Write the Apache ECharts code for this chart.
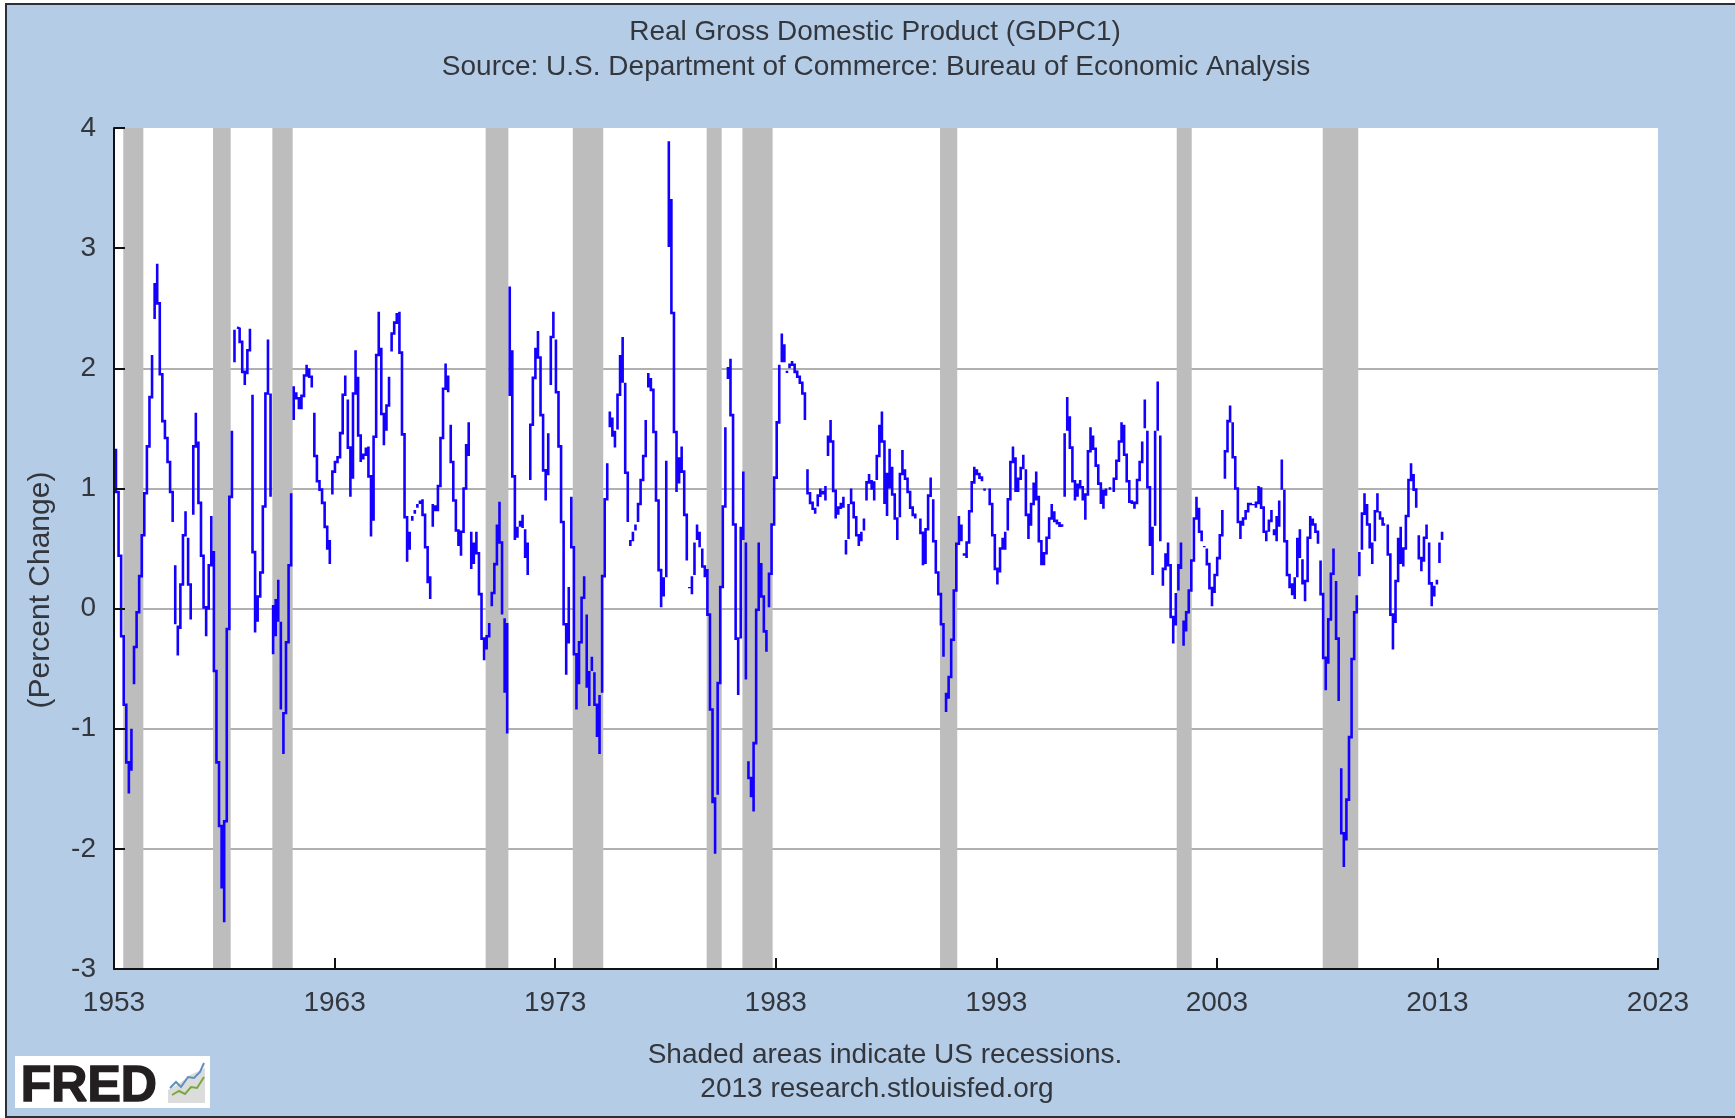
<!DOCTYPE html>
<html>
<head>
<meta charset="utf-8">
<title>Real Gross Domestic Product (GDPC1)</title>
<script src="https://cdn.jsdelivr.net/npm/echarts@6/dist/echarts.min.js"></script>
<style>
html,body{margin:0;padding:0;background:#fff;width:1735px;height:1118px;overflow:hidden}
#frame{position:absolute;left:5px;top:3px;right:-4px;bottom:0;background:#b5cce6;border:2px solid #2a2f38}
#chart{position:absolute;left:0;top:0;width:1735px;height:1118px}
</style>
</head>
<body>
<div id="frame"></div>
<div id="chart"></div>
<script>
// Percent-change readings, traced left to right. null lifts the pen.
var readings1953 = [1.33,0.97,0.44,-0.23,-0.80,-1.28,-1.54,null,-1.35,-1.00,null,-0.63,-0.32,-0.03,0.27,0.61,0.96,1.35,1.76,2.11,null,2.41,2.71,null,2.87,2.54,1.95,1.56,1.42,1.22,0.97,0.72,null,0.36,-0.13,null,-0.14,-0.39,null,-0.17,0.20,0.61,0.81,null,0.59,0.20,-0.09,null,0.78,1.35,1.63,null,1.39,0.88,0.44,0.01,-0.23,null,-0.01,0.36,0.77,null,0.48,-0.52,-1.28,-1.81,-2.33,null,-2.61,-1.77,-0.17,0.93,1.48,null,2.05,2.32,null,2.34,2.33,2.22,1.97,1.86,null,1.95,2.15,2.33,null,1.78,0.47,-0.20,null,-0.11,0.10,0.30,0.85,1.79,2.24,null,1.79,0.93,null,-0.38,0.03,null,-0.23,0.08,null,-0.11,0.24,null,-0.11,-0.84,null,-1.21,-0.86,null,-0.88,-0.28,0.36,0.96,null,1.57,1.85,null,1.80,1.75,1.66,null,1.66,1.77,1.94,2.03,null,2.00,1.93,1.84,null,1.63,1.27,1.06,0.99,0.88,0.68,0.49,null,0.57,0.37,null,0.95,1.14,1.22,1.26,1.46,1.78,1.94,null,1.74,1.34,0.93,null,1.08,1.79,2.15,null,1.93,1.44,1.22,null,1.24,1.28,1.34,null,1.35,1.10,0.60,null,0.73,1.43,2.11,2.47,null,2.17,1.62,1.36,null,1.48,1.69,1.93,null,2.14,2.29,2.38,2.46];
var readings1966 = [2.47,2.13,1.45,0.76,0.39,null,0.49,0.64,null,0.73,0.77,null,0.79,0.82,null,0.84,0.87,null,0.87,0.90,null,0.91,0.78,0.51,0.21,null,0.08,0.27,null,0.68,0.87,null,0.81,0.86,null,0.81,1.02,1.42,1.83,2.04,null,1.94,1.80,null,1.53,1.22,0.90,0.65,0.52,null,0.44,0.64,1.00,1.37,null,1.27,1.55,null,0.33,0.64,null,0.37,0.55,null,0.64,0.46,0.12,-0.25,-0.43,null,-0.34,-0.23,-0.12,null,0.02,0.13,0.37,0.70,null,0.89,0.55,-0.05,null,-0.08,-0.70,null,-1.04,-0.12,null,2.68,1.77,null,2.15,1.10,0.57,null,0.59,0.68,null,0.68,0.73,null,0.78,0.67,null,0.66,0.42,null,0.55,0.28,null,1.07,1.53,1.92,2.17,null,2.31,2.09,1.61,1.15,0.90,null,1.11,1.46,null,1.86,2.26,2.47,null,2.24,1.80,1.35,0.72,-0.13,-0.55,null,-0.29,0.18,null,0.93,0.51,-0.38,-0.84,null,-0.63,-0.28,0.09,0.27,null,-0.05,-0.66,null,-0.81,-0.52,null,-0.52,-0.40,null,-0.53,-0.80,-1.07,null,-1.21,-0.72,null,-0.70,0.27,0.91,1.21,null,1.64,1.51,null,1.59,1.43,null,1.34,1.48,null,1.49,1.78,2.11,null,2.26,1.88,null,1.88,1.13,0.72,null,0.52,0.57,null,0.56,0.64,null,0.65,0.70,null,0.72,0.87,1.07,1.27,1.57,null,1.96,1.84,null,1.92,1.82,1.47,0.90,0.32,0.01,null,0.10,0.26,null,0.26,1.23,null,3.89,3.01,null,3.41,2.46,1.47,0.97,null,1.04,1.26,null,1.35,1.14,0.78,0.40,null,0.18,0.17,null,0.12,0.27,null,0.28,0.55,null,0.57,0.70,null,0.64,0.51];
var readings1980 = [0.50,0.35,0.26,null,0.33,-0.05,-0.84,-1.62,null,-1.57,-2.04,null,-1.55,-0.62,0.18,0.85,1.51,null,1.91,2.01,null,2.08,1.61,0.70,-0.25,-0.72,null,-0.25,0.68,null,1.14,0.57,null,0.55,-0.59,null,-1.27,-1.41,-1.57,null,-1.69,-1.12,-0.01,0.55,null,0.38,0.10,-0.19,-0.36,null,0.01,0.29,0.70,1.09,1.55,2.03,null,2.29,2.05,null,2.20,2.05,null,1.96,1.98,null,2.00,2.04,null,2.06,2.03,1.97,1.93,1.88,1.79,1.57,null,1.16,0.96,0.88,0.82,null,0.79,0.84,null,0.85,0.94,1.00,null,0.98,0.95,null,1.02,0.90,null,1.27,1.44,null,1.57,1.39,0.98,0.75,null,0.78,0.84,0.88,null,0.93,0.84,null,0.45,0.57,null,0.58,0.87,null,1.00,0.88,0.76,0.61,0.52,null,0.56,0.64,null,0.65,0.75,null,0.90,1.05,1.12,null,1.07,0.99,null,0.90,1.06,null,1.07,1.27,1.53,null,1.64,1.39,0.87,null,0.77,1.13,null,1.00,1.33,null,1.18,0.95,0.75,0.57,null,0.76,1.12,1.32,null,1.16,1.08,0.97,0.84,0.78,0.75,null,0.76,0.76,null,0.75,0.63,0.36,null,0.37,0.66,0.94,1.09,null,0.91,0.56,0.30,0.12,-0.13,-0.40,null,-0.86,-0.70,null,-0.75,-0.57,-0.26,0.15,0.54,0.77,null,0.70,0.56,null,0.44,0.46,null,0.42,0.55,0.81,1.05,1.18,null,1.16,1.12,1.09,1.06,null,1.00,0.98,null,1.00,1.00,null,1.00,0.87,0.61,0.33,0.20];
var readings1993 = [0.30,0.50,0.59,null,0.49,0.64,null,0.65,0.91,1.22,1.35,null,1.26,0.97,null,0.97,1.08,1.17,1.28,null,1.16,0.78,0.58,null,0.69,0.87,1.05,null,1.14,0.90,null,0.94,0.56,0.36,null,0.36,0.46,0.59,0.75,0.87,null,0.81,0.73,0.71,0.69,0.68,null,0.93,1.46,null,1.48,1.76,null,1.60,1.34,1.06,0.90,null,0.93,1.04,null,1.07,1.00,null,1.02,0.90,null,0.74,0.95,1.31,1.51,null,1.44,1.33,1.19,1.04,0.87,null,0.83,0.99,null,0.94,1.00,null,1.00,1.00,1.00,null,0.97,1.08,1.23,1.39,1.55,null,1.53,1.28,1.06,0.89,0.87,null,0.83,0.88,1.07,1.22,1.39,null,1.74,1.50,null,1.48,1.01,0.52,null,0.28,0.68,null,0.69,1.48,null,1.48,1.89,null,1.44,0.56,null,0.19,0.33,0.46,null,0.55,0.36,-0.07,-0.29,null,-0.14,0.13,null,0.15,0.37,null,0.33,0.55,null,-0.31,-0.10,null,-0.19,-0.03,0.15,0.40,0.75,0.93,null,0.84,0.64,0.56,null,0.52,0.51,null,0.50,0.37,0.17,0.02,null,0.13,0.28,0.42,0.61,0.82,null,1.08,1.31,1.56,1.69,null,1.55,1.26,1.00,0.72,0.58,null,0.69,0.75,0.81,0.87,0.88,null,0.86,0.87,null,0.84,0.88,1.02,null,1.01,0.84,0.64,0.56,null,0.64,0.73,0.82,null,0.66,0.61,null,0.56,0.77,null,0.68,0.90,null,0.99,1.24,null,0.99,0.56,0.28,0.17,null,0.21,0.11,null,0.08,0.26,null,0.26,0.59,null,0.66,0.42,null,0.41,0.20,null,0.06,0.23,0.59,0.77,null,0.75,0.70,0.64,0.54,null,0.40,0.12,-0.41,-0.68,null,-0.46,-0.09,0.29,0.50,null,0.23,-0.25,-0.77,null,-1.33,-1.87,-2.15,null,-1.93,-1.59,-1.07,-0.42,-0.03,0.11,null,0.27,0.47,null,0.49,0.79,0.96,null,0.87,0.70,0.50,null,0.37,0.55,null,0.56,0.81,0.96,null,0.81,0.75,0.70,0.70,null,0.70,0.45,-0.05,-0.34,null,-0.12,0.23,0.59,null,0.68,0.37,null,0.35,0.50,0.77,1.07,1.21,null,1.12,0.99,0.84,null,0.61,0.42,0.31,null,0.39,0.59,0.70,null,0.55,0.21,0.02,null,0.10,0.19,null,0.20,0.24,null,0.38,0.55,null,0.57,0.64];
// Year of the first and last reading in each list
var spanYears = [[1953.09,1965.82],[1965.94,1979.55],[1979.67,1993.05],[1993.17,2013.21]];
var recessionStart = [1953.42,1957.49,1960.18,1969.85,1973.80,1979.87,1981.49,1990.45,2001.18,2007.80];
var recessionEnd   = [1954.33,1958.29,1961.10,1970.88,1975.18,1980.55,1982.86,1991.23,2001.86,2009.41];
var gridValues = [-2,-1,0,1,2];
var titleLines = ['Real Gross Domestic Product (GDPC1)','Source: U.S. Department of Commerce: Bureau of Economic Analysis'];
var footLines = ['Shaded areas indicate US recessions.','2013 research.stlouisfed.org'];
var yAxisName = '(Percent Change)';

function buildLine(lists, spans){
  var out = [];
  lists.forEach(function(list, s){
    var n = 0, i;
    for(i=1;i<list.length;i++){ if(list[i]!==null && list[i-1]!==null) n++; }
    var step = (spans[s][1]-spans[s][0])/(n-1), k = 0;
    for(i=1;i<list.length;i++){
      if(list[i]===null){ out.push([spans[s][0]+k*step, null]); continue; }
      if(list[i-1]===null) continue;
      var x = spans[s][0]+k*step;
      out.push([x,list[i-1]]);
      out.push([x,list[i]]);
      k++;
    }
    out.push([spans[s][1], null]);
  });
  return out;
}
var lineData = buildLine([readings1953,readings1966,readings1980,readings1993], spanYears);
var bands = recessionStart.map(function(a,i){ return [{xAxis:a},{xAxis:recessionEnd[i]}]; });

var FONT = '"Liberation Sans", Arial, sans-serif', TXT = '#33373d';
function line(text,left,top){
  return {text:text,left:left,top:top,textAlign:'center',textStyle:{fontFamily:FONT,fontWeight:'normal',fontSize:28,color:TXT}};
}
var chart = echarts.init(document.getElementById('chart'), null, {renderer:'canvas'});
chart.setOption({
  animation:false,
  backgroundColor:'transparent',
  grid:{left:114,right:77,top:128,bottom:149,show:true,backgroundColor:'#fff',borderWidth:0},
  title:[line(titleLines[0],870,13),line(titleLines[1],871,48),line(footLines[0],880,1036),line(footLines[1],872,1070)],
  xAxis:{type:'value',min:1953,max:2023,interval:10,z:5,
    axisLine:{show:true,onZero:false,lineStyle:{color:'#111',width:2}},
    axisTick:{show:true,inside:true,length:11,lineStyle:{color:'#111',width:2}},
    axisLabel:{show:true,margin:20,fontFamily:FONT,fontSize:28,color:TXT,formatter:function(v){return String(v);},showMinLabel:true,showMaxLabel:true},
    splitLine:{show:false}},
  yAxis:[
    {type:'value',min:-3,max:4,interval:1,z:0,axisLine:{show:false},axisTick:{show:false,customValues:gridValues},axisLabel:{show:false},
     splitLine:{show:true,customValues:gridValues,showMinLine:true,showMaxLine:true,lineStyle:{color:'#b0b0b0',width:2}}},
    {type:'value',min:-3,max:4,interval:1,z:5,position:'left',
     axisLine:{show:true,onZero:false,lineStyle:{color:'#111',width:2}},
     axisTick:{show:true,inside:true,length:11,lineStyle:{color:'#111',width:2}},
     axisLabel:{show:true,margin:18,fontFamily:FONT,fontSize:28,color:TXT},
     splitLine:{show:false}}
  ],
  series:[{type:'line',yAxisIndex:0,data:lineData,showSymbol:false,symbol:'none',connectNulls:false,smooth:false,
    lineStyle:{color:'#1400ff',width:2.6,cap:'butt',join:'miter'},z:3,silent:true,
    markArea:{silent:true,z:1,itemStyle:{color:'#bdbdbd',opacity:1},label:{show:false},data:bands}}],
  graphic:[
    {type:'text',x:41,y:590,rotation:Math.PI/2,style:{text:yAxisName,align:'center',verticalAlign:'middle',font:'30px "Liberation Sans", Arial, sans-serif',fill:TXT},z:10},
    {type:'rect',left:15,top:1056,shape:{width:195,height:52},style:{fill:'#fff'},z:10},
    {type:'text',left:20,top:1061,style:{text:'FRED',font:'bold 50px "Liberation Sans", Arial, sans-serif',fill:'#231f20',stroke:'#231f20',lineWidth:1.5},z:11},
    {type:'polygon',shape:{points:[[168,1103],[168,1090],[180,1083],[190,1075],[205,1068],[205,1103]]},style:{fill:'#dcdcdc'},z:11},
    {type:'polyline',shape:{points:[[170,1088],[176,1082],[181,1087],[188,1077],[194,1078],[200,1072],[204,1063]]},style:{stroke:'#5f90bd',lineWidth:2,fill:null},z:12},
    {type:'polyline',shape:{points:[[172,1095],[179,1091],[185,1094],[191,1087],[197,1088],[204,1077]]},style:{stroke:'#79a83f',lineWidth:2,fill:null},z:12}
  ]
});
</script>
</body>
</html>
